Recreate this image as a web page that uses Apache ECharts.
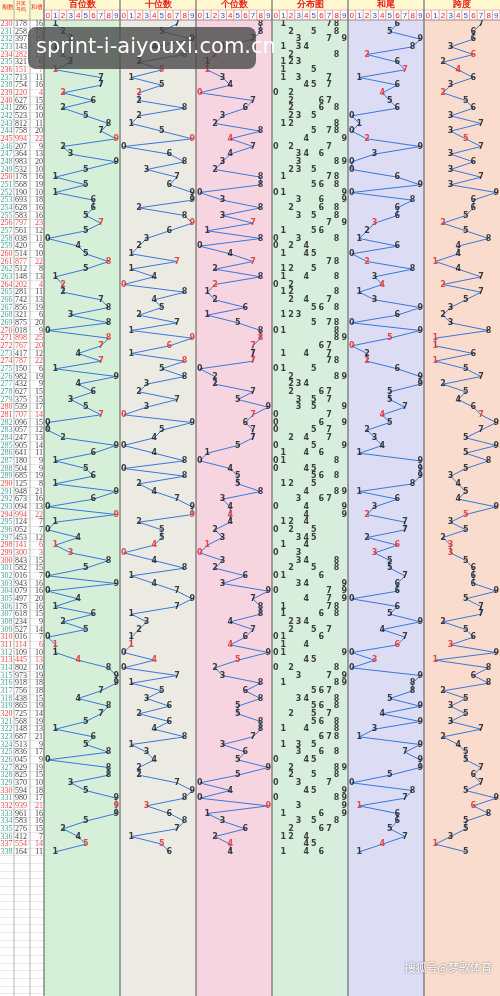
<!DOCTYPE html>
<html><head><meta charset="utf-8">
<script src="https://cdn.jsdelivr.net/npm/echarts@6/dist/echarts.min.js"></script>
<style>html,body{margin:0;padding:0;background:#fff}#c{width:500px;height:996px}</style>
</head><body><div id="c"></div>
<script>
const issues = [230,231,232,233,234,235,236,237,238,239,240,241,242,243,244,245,246,247,248,249,250,251,252,253,254,255,256,257,258,259,260,261,262,263,264,265,266,267,268,269,270,271,272,273,274,275,276,277,278,279,280,281,282,283,284,285,286,287,288,289,290,291,292,293,294,295,296,297,298,299,300,301,302,303,304,305,306,307,308,309,310,311,312,313,314,315,316,317,318,319,320,321,322,323,324,325,326,327,328,329,330,331,332,333,334,335,336,337,338];
const draws = ["178","258","397","143","282","321","151","713","754","220","627","286","523","812","758","994","207","364","983","532","178","568","190","693","628","583","797","561","038","420","514","877","512","148","202","281","742","856","321","875","018","898","767","417","787","150","982","432","627","375","539","707","096","057","247","905","641","180","504","685","125","948","673","094","994","124","052","453","141","300","843","582","016","943","079","497","178","618","234","527","016","114","109","445","802","973","918","756","438","865","725","568","148","687","513","836","045","829","825","370","594","980","939","961","583","276","412","554","164"];
const panelTitles = ["百位数","十位数","个位数","分布图","和尾","跨度"];
const digitTicks = ["0","1","2","3","4","5","6","7","8","9"];
const panelColors = ["#d5efd9","#ecebe3","#f7d5e0","#d8eedd","#dcdcf5","#f9dccd"];

const N = draws.length;
const ds = draws.map(s => s.split("").map(Number));
const sums = ds.map(d => d[0]+d[1]+d[2]);
const pair = ds.map(d => new Set(d).size < 3);
const decade = issues.map(i => i % 10 === 0);
const hund = ds.map(d=>d[0]), tens = ds.map(d=>d[1]), ones = ds.map(d=>d[2]);
const tail = sums.map(s=>s%10);
const span = ds.map(d=>Math.max(...d)-Math.min(...d));

const RED = "#e8211b", BLK = "#111", TEAL = "#1f8f86", BLUE = "#3a78d8";
const ROWS = 127.3;
const LF = {fontSize:8, fontWeight:'bold', fontFamily:'DejaVu Sans'};

const series = [];
series.push({type:'scatter', xAxisIndex:0, yAxisIndex:0, data:[], silent:true,
  markArea:{silent:true, data: panelColors.map((c,p)=>[{coord:[p*10,0],itemStyle:{color:c}},{coord:[p*10+10,ROWS]}])}});
function trend(arr, p) {
  series.push({type:'line', xAxisIndex:0, yAxisIndex:0, symbol:'none', lineStyle:{color:BLUE,width:1}, z:3,
    data: arr.map((v,i)=>[p*10+v+0.5, i+0.5])});
  series.push({type:'scatter', xAxisIndex:0, yAxisIndex:0, symbolSize:0, z:4,
    label:Object.assign({show:true,position:'inside',formatter:p=>String(p.data.d)},LF),
    data: arr.map((v,i)=>({value:[p*10+v+0.5, i+0.5], d:v, label:{color: pair[i]?RED:BLK}}))});
}
trend(hund,0); trend(tens,1); trend(ones,2); trend(tail,4); trend(span,5);
const distData = [];
ds.forEach((d,i)=>{ [...new Set(d)].forEach(v=>distData.push({value:[30+v+0.5,i+0.5], d:v})); });
series.push({type:'scatter', xAxisIndex:0, yAxisIndex:0, symbolSize:0, data:distData, z:4,
  label:Object.assign({show:true,position:'inside',color:BLK,formatter:p=>String(p.data.d)},LF)});
const left = [];
issues.forEach((iss,i)=>{
  const r = pair[i]||decade[i];
  left.push({value:[0.5,i+0.5],t:String(iss),label:{color:r?RED:TEAL}});
  left.push({value:[15,i+0.5],t:draws[i],label:{color:pair[i]?RED:BLK}});
  left.push({value:[43,i+0.5],t:String(sums[i]),label:{color:pair[i]?RED:BLK,align:'right'}});
});
series.push({type:'scatter', xAxisIndex:1, yAxisIndex:1, symbolSize:0, data:left,
  label:{show:true,position:'inside',align:'left',fontSize:8,fontFamily:'Liberation Sans Narrow',formatter:p=>p.data.t}});

const opt = {
  animation:false,
  grid:[{left:44,right:0,top:20,bottom:0},{left:0,width:44,top:20,bottom:0}],
  xAxis:[
    {type:'value',min:0,max:60,interval:1,gridIndex:0,
     axisLine:{show:false},axisTick:{show:false},axisLabel:{show:false},
     splitLine:{show:true,lineStyle:{color:'#b8c4b8',width:0.6}}},
    {type:'value',min:0,max:44,gridIndex:1,show:false}
  ],
  yAxis:[
    {type:'value',inverse:true,min:0,max:ROWS,interval:1,gridIndex:0,
     axisLine:{show:false},axisTick:{show:false},axisLabel:{show:false},
     splitLine:{show:true,lineStyle:{color:'#c9d3c9',width:0.5}}},
    {type:'value',inverse:true,min:0,max:ROWS,interval:1,gridIndex:1,
     axisLine:{show:false},axisTick:{show:false},axisLabel:{show:false},
     splitLine:{show:true,lineStyle:{color:'#d0d0d0',width:0.5}}}
  ],
  series:series
};
const chart = echarts.init(document.getElementById('c'),null,{renderer:'canvas'});
chart.setOption(opt);
const g = [];
const colW = 456/60;
g.push({type:'rect',shape:{x:0,y:0,width:500,height:20},style:{fill:'#fff8d0'},z:10});
g.push({type:'text',style:{text:'期数',x:2,y:4,fontSize:6,fill:RED},z:11});
g.push({type:'text',style:{text:'开奖\n号码',x:16,y:1,fontSize:5,fill:RED,lineHeight:6},z:11});
g.push({type:'text',style:{text:'和值',x:31,y:4,fontSize:6,fill:RED},z:11});
panelTitles.forEach((t,p)=>{
  const x0 = 44+p*10*colW;
  g.push({type:'text',style:{text:t,x:x0+38,y:5,fontSize:9,fontWeight:'bold',fill:RED,align:'center',verticalAlign:'middle'},z:11});
  digitTicks.forEach((d,k)=>{
    g.push({type:'rect',shape:{x:x0+k*colW,y:10,width:colW,height:10},style:{fill:'#fff',stroke:'#e07070',lineWidth:0.5},z:10});
    g.push({type:'text',style:{text:d,x:x0+k*colW+colW/2,y:15.5,fontSize:8,fill:(k%2?'#2255cc':RED),align:'center',verticalAlign:'middle'},z:11});
  });
  g.push({type:'line',shape:{x1:x0,y1:0,x2:x0,y2:996},style:{stroke:'#555',lineWidth:1},z:12});
});
[14,30].forEach(x=>g.push({type:'line',shape:{x1:x,y1:0,x2:x,y2:996},style:{stroke:'#888',lineWidth:0.6},z:12}));
g.push({type:'line',shape:{x1:0,y1:20,x2:500,y2:20},style:{stroke:'#888',lineWidth:0.6},z:12});
g.push({type:'rect',shape:{x:28,y:27,width:228,height:42,r:8},style:{fill:'rgba(70,70,70,0.78)'},z:20});
g.push({type:'text',style:{text:'sprint-i-aiyouxi.com.cn',x:36,y:48,fontSize:21,fill:'#fff',verticalAlign:'middle',fontFamily:'DejaVu Sans'},z:21});
g.push({type:'text',style:{text:'搜狐号@梦歌体育',x:492,y:968,fontSize:11,fill:'#fff',align:'right',verticalAlign:'middle',fontFamily:'Noto Sans CJK SC',textShadowColor:'rgba(0,0,0,0.6)',textShadowBlur:2},z:21});
chart.setOption({graphic:g});
</script></body></html>
